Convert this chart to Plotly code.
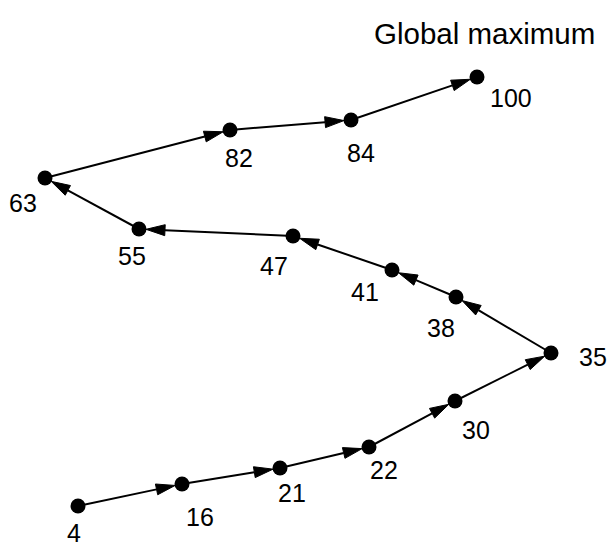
import numpy as np
import plotly.graph_objects as go

# Node values (fitness) along the search path, in visiting order
values = [4, 16, 21, 22, 30, 35, 38, 41, 47, 55, 63, 82, 84, 100]
# Layout coordinates of each node (pixel-like layout units)
node_x = [78, 182, 280, 369, 455, 551, 456, 392, 293, 139, 45, 230, 351, 477]
node_y = [506, 484, 468, 447, 401, 353, 297, 270, 236, 229, 178, 130, 120, 77]
# Directed edges: each node points to the next one in the path
edges = [(i, i + 1) for i in range(len(values) - 1)]
title_text = "Global maximum"

# Label placement offsets (styling)
label_dx = [-4, 18, 12, 15, 21, 42, -15, -27, -19, -7, -22, 9, 10, 34]
label_dy = [27, 33, 25, 23, 29, 4, 31, 22, 30, 27, 25, 28, 33, 21]

NODE_R = 7
HEAD_LEN = 19
HEAD_HALF = 5.5

line_x, line_y, head_x, head_y = [], [], [], []
for s, t in edges:
    x0, y0 = node_x[s], node_y[s]
    x1, y1 = node_x[t], node_y[t]
    d = np.array([x1 - x0, y1 - y0], dtype=float)
    L = np.hypot(*d)
    u = d / L
    n = np.array([-u[1], u[0]])
    tip = np.array([x1, y1]) - u * NODE_R
    base = tip - u * HEAD_LEN
    line_x += [x0, base[0], None]
    line_y += [y0, base[1], None]
    p1 = base + n * HEAD_HALF
    p2 = base - n * HEAD_HALF
    head_x += [tip[0], p1[0], p2[0], tip[0], None]
    head_y += [tip[1], p1[1], p2[1], tip[1], None]

fig = go.Figure()
fig.add_trace(go.Scatter(x=line_x, y=line_y, mode="lines",
                         line=dict(color="black", width=2), hoverinfo="skip"))
fig.add_trace(go.Scatter(x=head_x, y=head_y, mode="lines", fill="toself",
                         fillcolor="black", line=dict(color="black", width=1),
                         hoverinfo="skip"))
fig.add_trace(go.Scatter(x=node_x, y=node_y, mode="markers",
                         marker=dict(size=15, color="black"),
                         text=[str(v) for v in values], hoverinfo="text"))

label_font = dict(family="Liberation Sans, Arial", size=25, color="black")
for i, v in enumerate(values):
    fig.add_annotation(x=node_x[i] + label_dx[i], y=node_y[i] + label_dy[i],
                       text=str(v), showarrow=False, font=label_font,
                       xanchor="center", yanchor="middle")

fig.add_annotation(x=484, y=33, text=title_text, showarrow=False,
                   font=dict(family="Liberation Sans, Arial", size=29.5, color="black"),
                   xanchor="center", yanchor="middle")

W, H = 608, 546
fig.update_layout(
    width=W, height=H,
    margin=dict(l=0, r=0, t=0, b=0, pad=0),
    paper_bgcolor="white", plot_bgcolor="white",
    showlegend=False,
    xaxis=dict(range=[0, W], visible=False, fixedrange=True),
    yaxis=dict(range=[H, 0], visible=False, fixedrange=True),
)
fig.write_html(
    "out.html",
    config={"displayModeBar": False},
    post_script="document.body.style.margin='0';document.body.style.overflow='hidden';",
)
